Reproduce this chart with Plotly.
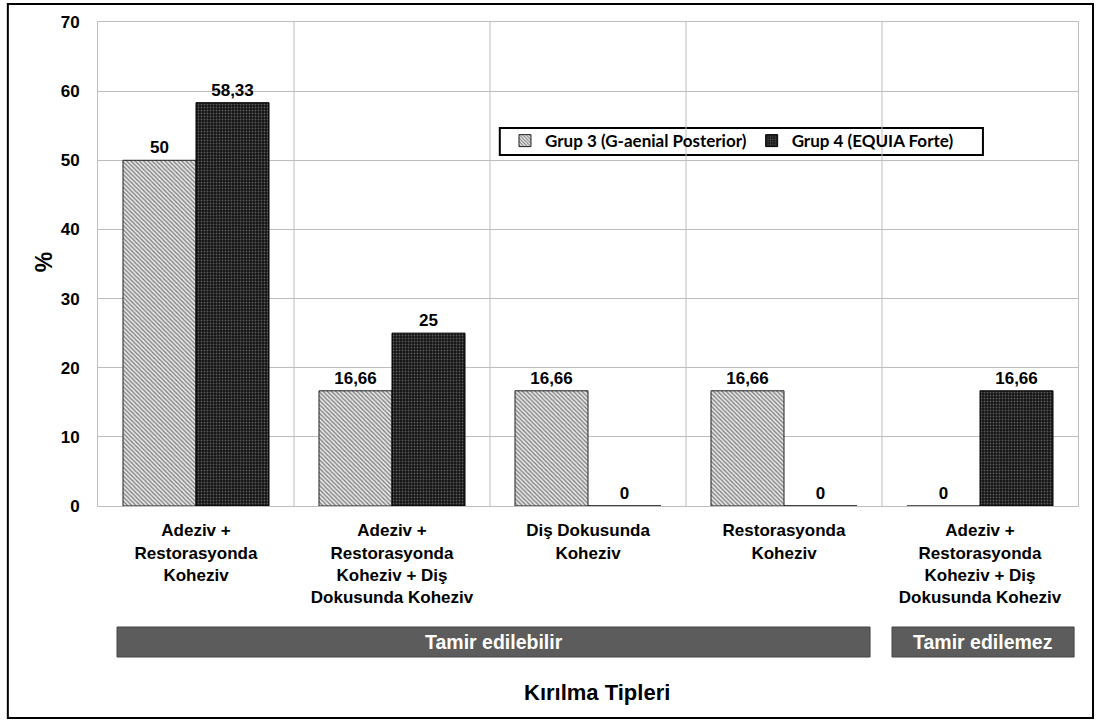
import plotly.graph_objects as go

# Fracture types and percentages per group
categories = [
    "Adeziv +<br>Restorasyonda<br>Koheziv",
    "Adeziv +<br>Restorasyonda<br>Koheziv + Diş<br>Dokusunda Koheziv",
    "Diş Dokusunda<br>Koheziv",
    "Restorasyonda<br>Koheziv",
    "Adeziv +<br>Restorasyonda<br>Koheziv + Diş<br>Dokusunda Koheziv",
]
grup3_values = [50, 16.66, 16.66, 16.66, 0]
grup4_values = [58.33, 25, 0, 0, 16.66]
grup3_name = "Grup 3 (G-aenial Posterior)"
grup4_name = "Grup 4 (EQUIA Forte)"
y_ticks = [0, 10, 20, 30, 40, 50, 60, 70]

x_pos = list(range(len(categories)))
BOLD = "Liberation Sans"


def fmt(v):
    s = f"{v:g}"
    return s.replace(".", ",")


fig = go.Figure()
fig.add_trace(go.Bar(
    x=x_pos, y=grup3_values, name=grup3_name,
    text=[fmt(v) for v in grup3_values], textposition="outside",
    textfont=dict(family=BOLD, size=17, color="black", weight="bold"),
    cliponaxis=False,
    marker=dict(
        color="#d0d0d0",
        line=dict(color="#222222", width=1),
        pattern=dict(shape="\\", fillmode="replace", bgcolor="#e6e6e6",
                     fgcolor="#7a7a7a", size=3, solidity=0.4),
    ),
))
fig.add_trace(go.Bar(
    x=x_pos, y=grup4_values, name=grup4_name,
    text=[fmt(v) for v in grup4_values], textposition="outside",
    textfont=dict(family=BOLD, size=17, color="black", weight="bold"),
    cliponaxis=False,
    marker=dict(
        color="black",
        line=dict(color="black", width=1),
        pattern=dict(shape=".", fillmode="replace", bgcolor="#141414",
                     fgcolor="#5a5a5a", size=3, solidity=0.3),
    ),
))

shapes = []
# vertical separators between categories
for b in [0.5, 1.5, 2.5, 3.5]:
    shapes.append(dict(type="line", xref="x", yref="y", x0=b, x1=b, y0=0, y1=70,
                       line=dict(color="#bdbdbd", width=1), layer="below"))
# group bands under the category labels
shapes.append(dict(type="rect", xref="x", yref="paper", x0=-0.403, x1=3.439,
                   y0=-0.312, y1=-0.250, fillcolor="#5c5c5c",
                   line=dict(color="#444444", width=1)))
shapes.append(dict(type="rect", xref="x", yref="paper", x0=3.551, x1=4.480,
                   y0=-0.312, y1=-0.250, fillcolor="#5c5c5c",
                   line=dict(color="#444444", width=1)))
# legend frame
shapes.append(dict(type="rect", xref="paper", yref="paper", x0=0.410, x1=0.903,
                   y0=0.725, y1=0.781, line=dict(color="black", width=2),
                   fillcolor="white", layer="below"))
# outer frame
shapes.append(dict(type="rect", xref="paper", yref="paper", x0=-0.092, x1=1.0153,
                   y0=-0.438, y1=1.037, line=dict(color="black", width=2),
                   fillcolor="rgba(0,0,0,0)"))

annotations = [
    dict(text="Tamir edilebilir", xref="x", yref="paper", x=1.518, y=-0.281,
         xanchor="center", yanchor="middle", showarrow=False,
         font=dict(family=BOLD, size=19.5, color="white", weight="bold")),
    dict(text="Tamir edilemez", xref="x", yref="paper", x=4.015, y=-0.281,
         xanchor="center", yanchor="middle", showarrow=False,
         font=dict(family=BOLD, size=19.5, color="white", weight="bold")),
    dict(text="Kırılma Tipleri", xref="paper", yref="paper", x=0.509, y=-0.386,
         xanchor="center", yanchor="middle", showarrow=False,
         font=dict(family=BOLD, size=22, color="black", weight="bold")),
    dict(text="%", xref="paper", yref="paper", x=-0.055, y=0.504, textangle=-90,
         xanchor="center", yanchor="middle", showarrow=False,
         font=dict(family=BOLD, size=23, color="black", weight="bold")),
]

fig.update_layout(
    width=1097, height=722,
    margin=dict(l=98, r=19, t=22, b=216),
    paper_bgcolor="white", plot_bgcolor="white",
    barmode="group", bargap=0.255, bargroupgap=0,
    showlegend=True,
    legend=dict(
        orientation="h", x=0.4153, y=0.754, xanchor="left", yanchor="middle",
        borderwidth=0, bgcolor="rgba(0,0,0,0)",
        font=dict(family="Lato", size=17, color="black", weight="bold"),
        itemwidth=30, tracegroupgap=0,
    ),
    xaxis=dict(
        range=[-0.5, 4.5], tickvals=x_pos, ticktext=categories,
        showgrid=False, showline=True, mirror=True, linecolor="#bdbdbd",
        ticks="", tickfont=dict(family=BOLD, size=17, color="black", weight="bold"),
        zeroline=False, ticklabelstandoff=9,
    ),
    yaxis=dict(
        range=[0, 70], tickvals=y_ticks, showgrid=True, gridcolor="#bdbdbd",
        showline=True, mirror=True, linecolor="#bdbdbd", ticks="",
        tickfont=dict(family=BOLD, size=17, color="black", weight="bold"),
        zeroline=False, ticklabelstandoff=14,
    ),
    shapes=shapes, annotations=annotations,
)

fig.write_html("out.html")
